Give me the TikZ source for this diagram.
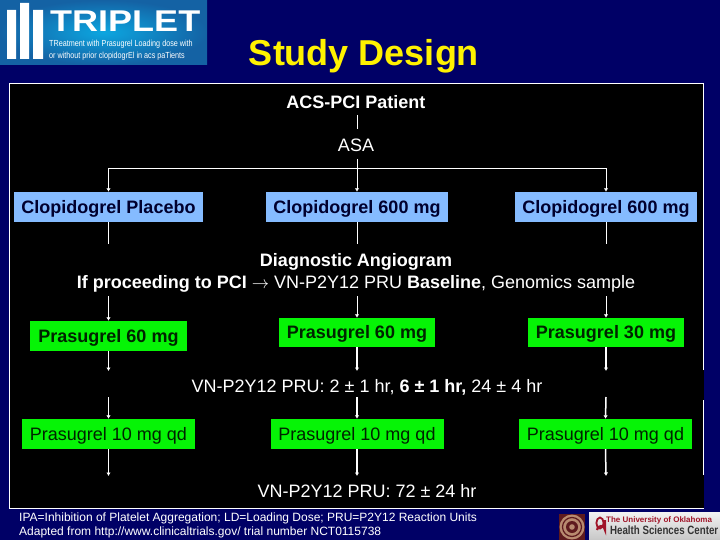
\documentclass[tikz,border=0pt]{standalone}
\usepackage{fontspec}
\setmainfont{Liberation Sans}
\usetikzlibrary{arrows.meta}
\definecolor{navy}{HTML}{000066}
\definecolor{boxblue}{HTML}{85BBFF}
\definecolor{boxgreen}{HTML}{06F406}
\definecolor{inkblue}{HTML}{00002E}
\definecolor{inkgreen}{HTML}{002400}
\definecolor{crimson}{HTML}{A01428}
\definecolor{logoin}{HTML}{0CA6E0}
\definecolor{logoout}{HTML}{1462A4}
\definecolor{sealdark}{HTML}{5E1A1E}
\definecolor{sealtan}{HTML}{B88A70}
\newcommand{\fs}[1]{\fontsize{#1}{#1}\selectfont}
\tikzset{
  lbl/.style={inner sep=0pt,text=white,font=\fs{18},anchor=base},
  blue box/.style={fill=boxblue,text=inkblue,inner sep=0pt,text height=12.9,text depth=0,minimum height=30,font=\fs{18}\bfseries},
  green box/.style={fill=boxgreen,text=inkgreen,inner sep=0pt,text height=12.9,text depth=0,minimum height=30,font=\fs{18}},
  conn/.style={draw=white,line width=0.9pt},
  connthick/.style={draw=white,line width=1.5pt},
  tip/.style={-{Latex[length=3.5pt,width=4.5pt]}},
  foot/.style={inner sep=0pt,text=white,font=\fs{12},anchor=base west},
}
\begin{document}
\begin{tikzpicture}[x=1pt,y=-1pt]
\useasboundingbox (0,0) rectangle (720,540);
\fill[navy] (0,0) rectangle (720,540);
% logo
\shade[inner color=logoin,outer color=logoout] (0,0) rectangle (207,64.5);
\fill[white] (7,10) rectangle (16,59) (20,3) rectangle (29,59) (33,10) rectangle (43,59);
\node[inner sep=0pt,text=white,anchor=west,xscale=1.2,transform shape,font=\fs{30}\bfseries] (logoname) at (50,21) {TRIPLET};
\node[inner sep=0pt,text=white,anchor=west,xscale=0.82,transform shape,font=\fs{8.8}] (logoa) at (49,44.5) {TReatment with Prasugrel Loading dose with};
\node[inner sep=0pt,text=white,anchor=west,xscale=0.82,transform shape,font=\fs{8.8}] (logob) at (49,56) {or without prior clopidogrEl in acs paTients};
% title
\node[inner sep=0pt,text=yellow,font=\fs{36}\bfseries,anchor=base] (title) at (364,65.5) {Study Design};
% panel
\fill[black] (9,83) rectangle (704,508);
\draw[white,line width=1pt] (703.5,370) -- (703.5,83.5) -- (9.5,83.5) -- (9.5,508) -- (703.5,508);
\draw[white,line width=1pt] (703.5,400) -- (703.5,475);
% text
\node[lbl,font=\fs{18}\bfseries] (acs) at (356,108.7) {ACS-PCI Patient};
\node[lbl] (asa) at (356,151.2) {ASA};
\node[lbl,font=\fs{18}\bfseries] (diag) at (356,266) {Diagnostic Angiogram};
\node[lbl] (pci) at (356,288) {\textbf{If proceeding to PCI} $\rightarrow$ VN-P2Y12 PRU \textbf{Baseline}, Genomics sample};
\node[lbl] (pru) at (367,392) {VN-P2Y12 PRU: 2 ± 1 hr, \textbf{6 ± 1 hr,} 24 ± 4 hr};
\node[lbl] (prub) at (367,497) {VN-P2Y12 PRU: 72 ± 24 hr};
% boxes
\node[blue box,minimum width=189] (cp) at (108.5,207) {Clopidogrel Placebo};
\node[blue box,minimum width=182] (cm) at (357,207) {Clopidogrel 600 mg};
\node[blue box,minimum width=182] (cr) at (606,207) {Clopidogrel 600 mg};
\node[green box,minimum width=157,font=\fs{18}\bfseries] (pa) at (108.5,336) {Prasugrel 60 mg};
\node[green box,minimum width=156,minimum height=29,font=\fs{18}\bfseries] (pb) at (357,332.5) {Prasugrel 60 mg};
\node[green box,minimum width=156,minimum height=29,font=\fs{18}\bfseries] (pc) at (606,332.5) {Prasugrel 30 mg};
\node[green box,minimum width=173] (ta) at (108.5,434) {Prasugrel 10 mg qd};
\node[green box,minimum width=173] (tb) at (357,434) {Prasugrel 10 mg qd};
\node[green box,minimum width=173] (tc) at (605.5,434) {Prasugrel 10 mg qd};
% free ends
\coordinate (acsend) at (357,115);
\coordinate (asaend) at (357,129);
\coordinate (asatop) at (357,159);
\coordinate (fork) at (357,168);
\foreach \n/\x in {a/108.5,b/357,c/606}{
  \coordinate (d\n) at (\x,244);
  \coordinate (e\n) at (\x,296);
  \coordinate (f\n) at (\x,371);
  \coordinate (g\n) at (\x,397);
  \coordinate (h\n) at (\x,476);
}
% connectors
\draw[conn] (acsend) -- (asaend);
\draw[conn] (asatop) -- (fork);
\draw[conn,tip] (fork) -- (cm.north);
\draw[conn,tip] (fork) -| (cp.north);
\draw[conn,tip] (fork) -| (cr.north);
\draw[conn] (cp.south) -- (da);
\draw[conn] (cm.south) -- (db);
\draw[conn] (cr.south) -- (dc);
\draw[conn,tip] (ea) -- (pa.north);
\draw[conn,tip] (eb) -- (pb.north);
\draw[conn,tip] (ec) -- (pc.north);
\draw[connthick,tip] (pa.south) -- (fa);
\draw[connthick,tip] (pb.south) -- (fb);
\draw[connthick,tip] (pc.south) -- (fc);
\draw[connthick,tip] (ga) -- (ta.north);
\draw[connthick,tip] (gb) -- (tb.north);
\draw[connthick,tip] (gc) -- (tc.north);
\draw[connthick,tip] (ta.south) -- (ha);
\draw[connthick,tip] (tb.south) -- (hb);
\draw[connthick,tip] (tc.south) -- (hc);
% footnotes
\node[foot] (fna) at (19,521.7) {IPA=Inhibition of Platelet Aggregation; LD=Loading Dose; PRU=P2Y12 Reaction Units};
\node[foot] (fnb) at (19,535.7) {Adapted from http://www.clinicaltrials.gov/ trial number NCT0115738};
% seal
\fill[sealdark] (559,514) rectangle (585,540);
\fill[sealtan] (572,527) circle (12.5);
\draw[sealdark,line width=1.2pt] (572,527) circle (9.5);
\fill[sealdark] (572,527) circle (6);
\fill[sealtan] (572,527) circle (2.8);
% OU block
\shade[top color=white!95!black,bottom color=black!22] (589,512) rectangle (720,540);
\draw[crimson,line width=1.8pt] (600,523) ellipse (3.6 and 5.5);
\draw[crimson,line width=2.2pt] (597,530) arc[start angle=180,end angle=360,x radius=4,y radius=4] -- (605,520);
\node[inner sep=0pt,anchor=base west,text=crimson,font=\fs{8}\bfseries] (ou) at (606,522) {The University of Oklahoma};
\node[inner sep=0pt,anchor=base west,text=black!80,xscale=0.81,transform shape,font=\fs{12}\bfseries] (hsc) at (610,534) {Health Sciences Center};
\end{tikzpicture}
\end{document}
